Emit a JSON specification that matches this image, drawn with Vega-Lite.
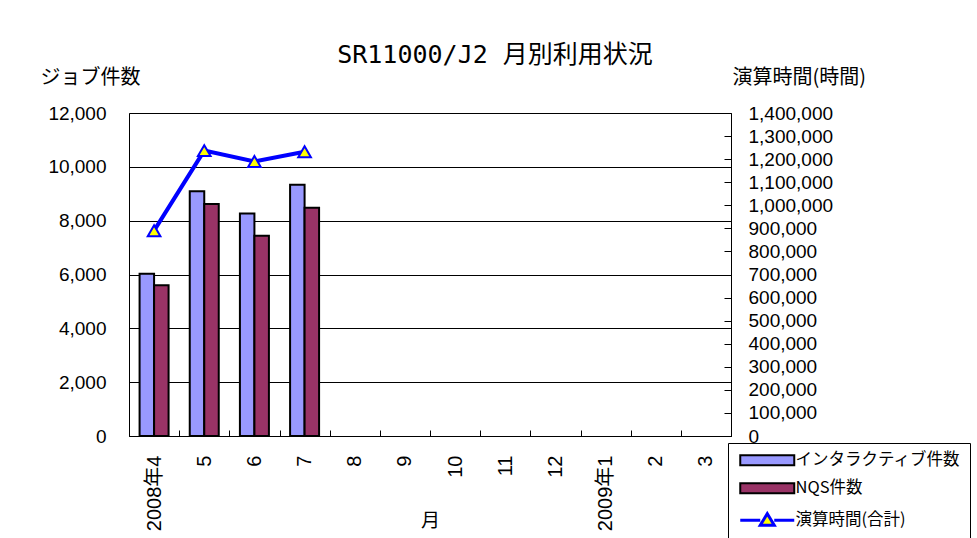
{
  "$schema": "https://vega.github.io/schema/vega-lite/v6.json",
  "width": 602,
  "height": 323,
  "autosize": {"type": "none"},
  "padding": {"left": 129, "top": 113, "right": 246, "bottom": 102},
  "background": "white",
  "title": {
    "text": "SR11000/J2 月別利用状況",
    "font": "DejaVu Sans Mono, Noto Sans CJK JP",
    "fontSize": 25,
    "fontWeight": "normal",
    "color": "#000000",
    "anchor": "middle",
    "frame": "group",
    "dx": 65,
    "offset": -21,
    "baseline": "alphabetic"
  },
  "config": {
    "view": {"stroke": "#808080", "strokeWidth": 1},
    "axis": {
      "labelColor": "#000000",
      "titleColor": "#000000",
      "domainColor": "#000000",
      "domainWidth": 1,
      "tickColor": "#000000",
      "titleFontWeight": "normal"
    }
  },
  "datasets": {
    "bars": [
      {"month": "2008年4", "series": "インタラクティブ件数", "count": 6030},
      {"month": "2008年4", "series": "NQS件数", "count": 5600},
      {"month": "5", "series": "インタラクティブ件数", "count": 9090},
      {"month": "5", "series": "NQS件数", "count": 8620},
      {"month": "6", "series": "インタラクティブ件数", "count": 8270},
      {"month": "6", "series": "NQS件数", "count": 7440},
      {"month": "7", "series": "インタラクティブ件数", "count": 9330},
      {"month": "7", "series": "NQS件数", "count": 8480}
    ],
    "hours": [
      {"month": "2008年4", "hours": 890000},
      {"month": "5", "hours": 1237000},
      {"month": "6", "hours": 1190000},
      {"month": "7", "hours": 1232000}
    ]
  },
  "layer": [
    {
      "data": {"name": "bars"},
      "mark": {"type": "bar", "stroke": "#000000", "strokeWidth": 2},
      "encoding": {
        "x": {
          "field": "month",
          "type": "nominal",
          "sort": null,
          "scale": {
            "domain": ["2008年4", "5", "6", "7", "8", "9", "10", "11", "12", "2009年1", "2", "3"],
            "paddingInner": 0,
            "paddingOuter": 0
          },
          "axis": {
            "orient": "bottom",
            "title": "月",
            "titleFont": "Noto Sans CJK JP",
            "titleFontSize": 19,
            "titleBaseline": "alphabetic",
            "titleY": 90,
            "labelAngle": 270,
            "labelAlign": "right",
            "labelBaseline": "middle",
            "labelPadding": 25,
            "labelFont": "Liberation Sans, Noto Sans CJK JP",
            "labelFontSize": 20,
            "tickBand": "extent",
            "tickSize": -6,
            "grid": false
          }
        },
        "xOffset": {
          "field": "series",
          "type": "nominal",
          "scale": {"domain": ["インタラクティブ件数", "NQS件数"], "paddingOuter": 0.73, "paddingInner": 0}
        },
        "y": {
          "field": "count",
          "type": "quantitative",
          "scale": {"domain": [0, 12000]},
          "axis": {
            "orient": "left",
            "title": "ジョブ件数",
            "titleAngle": 0,
            "titleAlign": "left",
            "titleBaseline": "alphabetic",
            "titleX": -89,
            "titleY": -30,
            "titleFont": "Noto Sans CJK JP",
            "titleFontSize": 20,
            "format": ",d",
            "values": [0, 2000, 4000, 6000, 8000, 10000, 12000],
            "ticks": false,
            "labelPadding": 23,
            "labelFont": "Liberation Sans",
            "labelFontSize": 19,
            "labelOverlap": false,
            "grid": true,
            "gridColor": "#000000",
            "gridWidth": 1
          }
        },
        "color": {
          "field": "series",
          "type": "nominal",
          "scale": {
            "domain": ["インタラクティブ件数", "NQS件数"],
            "range": ["#9999FF", "#993366"]
          },
          "legend": null
        },
        "opacity": {
          "field": "series",
          "type": "ordinal",
          "scale": {
            "domain": ["インタラクティブ件数", "NQS件数", "演算時間(合計)"],
            "range": [1, 1, 1]
          },
          "legend": {
            "title": null,
            "orient": "none",
            "legendX": 599,
            "legendY": 330,
            "strokeColor": "#000000",
            "fillColor": "#FFFFFF",
            "padding": 9,
            "cornerRadius": 0,
            "rowPadding": 9,
            "symbolSize": 100,
            "symbolStrokeWidth": 2,
            "labelOffset": 42,
            "labelFont": "Noto Sans CJK JP",
            "labelFontSize": 16.5,
            "labelColor": "#000000",
            "labelLimit": 300,
            "encoding": {
              "symbols": {
                "shape": {"value": {"expr": "datum.label == '演算時間(合計)' ? 'M-1,0H3M5.8,0H9.8M3,1L4.4,-1.3L5.8,1Z' : 'M-1,-1H9.8V1H-1Z'"}},
                "fill": {"value": {"expr": "datum.label == 'インタラクティブ件数' ? '#9999FF' : (datum.label == 'NQS件数' ? '#993366' : '#FFFF00')"}},
                "stroke": {"value": {"expr": "datum.label == '演算時間(合計)' ? '#0000FF' : '#000000'"}},
                "strokeWidth": {"value": {"expr": "datum.label == '演算時間(合計)' ? 3 : 2"}},
                "fillOpacity": {"value": 1},
                "strokeOpacity": {"value": 1}
              }
            }
          }
        }
      }
    },
    {
      "data": {"name": "hours"},
      "encoding": {
        "x": {
          "field": "month",
          "type": "nominal",
          "sort": null,
          "scale": {"domain": ["2008年4", "5", "6", "7", "8", "9", "10", "11", "12", "2009年1", "2", "3"]}
        },
        "y": {
          "field": "hours",
          "type": "quantitative",
          "scale": {"domain": [0, 1400000]},
          "axis": {
            "orient": "right",
            "title": "演算時間(時間)",
            "titleAngle": 0,
            "titleAlign": "left",
            "titleBaseline": "alphabetic",
            "titleX": 1,
            "titleY": -30,
            "titleFont": "Noto Sans CJK JP",
            "titleFontSize": 20,
            "format": ",d",
            "values": [0, 100000, 200000, 300000, 400000, 500000, 600000, 700000, 800000, 900000, 1000000, 1100000, 1200000, 1300000, 1400000],
            "tickSize": -7,
            "labelPadding": 24,
            "labelFont": "Liberation Sans",
            "labelFontSize": 19,
            "labelOverlap": false,
            "labelFlush": false,
            "grid": false
          }
        }
      },
      "layer": [
        {
          "mark": {"type": "line", "strokeWidth": 4, "stroke": "#0000FF"}
        },
        {
          "mark": {"type": "point", "shape": "triangle-up", "filled": true, "fill": "#FFFF00", "stroke": "#0000FF", "strokeWidth": 2, "size": 160, "opacity": 1, "fillOpacity": 1, "strokeOpacity": 1}
        }
      ]
    }
  ],
  "resolve": {"scale": {"y": "independent"}}
}
